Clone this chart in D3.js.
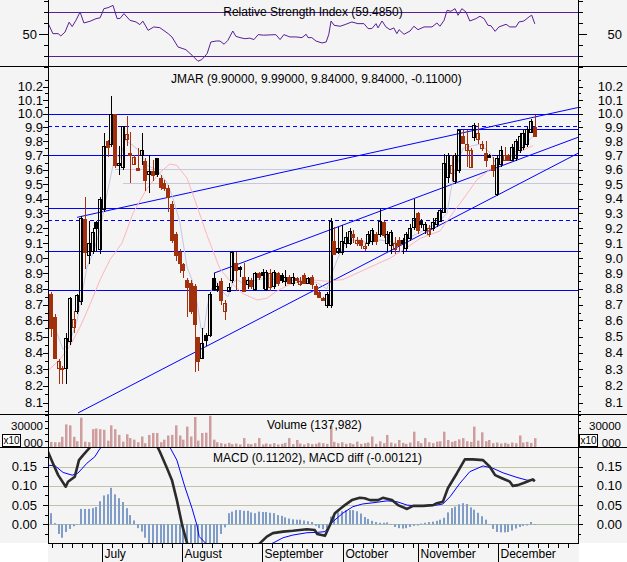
<!DOCTYPE html>
<html>
<head>
<meta charset="utf-8">
<script src="https://cdn.jsdelivr.net/npm/d3@7/dist/d3.min.js"></script>
<style>
  html, body { margin: 0; padding: 0; background: #ffffff; }
  svg { display: block; }
</style>
</head>
<body>
<svg id="chart" width="627" height="562"></svg>
<script>
// ---------- daily prices, one entry per trading day ----------
const open = [8.77,8.62,8.31,8.31,8.31,8.47,8.56,8.66,8.72,9.26, 9.02,9.05,9.24,9.06,9.33,9.80,9.78,10.00,9.63,9.62,
  9.82,9.72,9.64,9.61,9.70,9.66,9.57,9.59,9.68,9.54, 9.51,9.47,9.36,9.16,9.04,8.96,8.86,8.84,8.82,8.50,
  8.37,8.51,8.51,8.87,8.80,8.85,8.66,8.79,8.86,8.97, 8.94,8.88,8.83,8.86,8.80,8.90,8.91,8.80,8.81,8.82,
  8.90,8.89,8.85,8.88,8.84,8.87,8.83,8.89,8.84,8.88, 8.82,8.78,8.74,8.70,8.70,9.11,9.04,9.04,9.10,9.10,
  9.16,9.10,9.12,9.07,9.10,9.11,9.16,9.16,9.24,9.10, 9.09,9.06,9.12,9.12,9.07,9.13,9.21,9.30,9.25,9.19,
  9.16,9.20,9.23,9.25,9.31,9.55,9.58,9.52,9.60,9.84, 9.74,9.62,9.83,9.82,9.75,9.72,9.70,9.63,9.43,9.64,
  9.67,9.70,9.67,9.68,9.74,9.76,9.78,9.87,9.90];
const high = [8.78,8.64,8.36,8.32,8.52,8.75,8.66,8.77,9.28,9.41, 9.25,9.20,9.25,9.41,9.86,9.81,10.13,10.00,9.77,9.91,
  9.98,9.87,9.70,9.75,9.86,9.68,9.70,9.67,9.68,9.56, 9.53,9.49,9.38,9.17,9.06,8.97,8.87,8.86,8.83,8.50,
  8.55,8.52,8.78,8.90,8.84,8.87,8.73,8.84,9.05,9.04, 8.95,8.97,8.88,8.87,8.91,8.91,8.93,8.92,8.93,8.92,
  8.91,8.90,8.92,8.89,8.90,8.88,8.88,8.90,8.88,8.89, 8.83,8.79,8.75,8.78,9.27,9.21,9.21,9.22,9.17,9.20,
  9.19,9.14,9.13,9.10,9.18,9.20,9.17,9.33,9.25,9.18, 9.19,9.14,9.14,9.13,9.17,9.23,9.40,9.31,9.26,9.24,
  9.22,9.27,9.31,9.33,9.71,9.72,9.70,9.72,9.89,9.88, 9.88,9.75,9.93,9.93,9.80,9.80,9.71,9.69,9.70,9.77,
  9.76,9.71,9.78,9.82,9.86,9.88,9.90,9.96,9.99];
const low = [8.50,8.36,8.21,8.21,8.21,8.45,8.52,8.64,8.70,8.93, 8.96,9.03,9.05,9.03,9.31,9.69,9.76,9.61,9.56,9.60,
  9.77,9.51,9.63,9.59,9.63,9.45,9.44,9.52,9.55,9.46, 9.45,9.31,9.10,8.98,8.90,8.87,8.62,8.64,8.28,8.29,
  8.36,8.44,8.50,8.79,8.78,8.70,8.60,8.78,8.84,8.79, 8.88,8.78,8.80,8.80,8.79,8.86,8.80,8.79,8.79,8.80,
  8.82,8.84,8.82,8.83,8.82,8.84,8.82,8.83,8.83,8.80, 8.76,8.74,8.72,8.68,8.68,9.02,9.03,9.02,9.07,9.09,
  9.10,9.08,9.06,9.05,9.08,9.09,9.09,9.14,9.13,9.04, 9.03,9.03,9.05,9.03,9.05,9.11,9.19,9.16,9.20,9.16,
  9.14,9.18,9.21,9.24,9.30,9.51,9.52,9.50,9.58,9.78, 9.62,9.61,9.80,9.78,9.73,9.62,9.68,9.55,9.42,9.62,
  9.66,9.66,9.66,9.66,9.72,9.74,9.76,9.86,9.84];
const close = [8.55,8.37,8.35,8.30,8.49,8.74,8.61,8.76,9.27,9.04, 9.10,9.17,9.20,9.40,9.77,9.76,10.00,9.63,9.65,9.91,
  9.85,9.70,9.69,9.60,9.74,9.53,9.59,9.56,9.57,9.48, 9.47,9.41,9.12,9.02,8.97,8.92,8.81,8.66,8.58,8.35,
  8.46,8.48,8.77,8.80,8.82,8.73,8.71,8.81,9.04,8.92, 8.93,8.79,8.86,8.82,8.90,8.88,8.89,8.91,8.90,8.91,
  8.84,8.86,8.88,8.84,8.88,8.86,8.85,8.84,8.87,8.83, 8.77,8.75,8.73,8.77,9.25,9.03,9.07,9.11,9.14,9.18,
  9.14,9.12,9.09,9.08,9.16,9.19,9.11,9.25,9.15,9.16, 9.17,9.10,9.09,9.10,9.16,9.20,9.27,9.19,9.23,9.23,
  9.20,9.24,9.27,9.32,9.65,9.70,9.63,9.70,9.88,9.79, 9.78,9.74,9.92,9.86,9.78,9.67,9.69,9.60,9.68,9.74,
  9.70,9.67,9.76,9.80,9.84,9.86,9.89,9.95,9.84];
// daily volume in units of 10 shares
const volume = [8000,7500,7500,16000,35500,34000,16000,9000,46000,8500, 7500,28000,29000,28000,27000,10000,34000,28000,19000,8500,
  20000,14000,11500,7500,16500,6000,19000,22000,22000,7500, 11500,18000,19000,34000,18000,11500,32000,16500,47000,10000,
  22000,22500,49000,11500,7500,6000,5000,6500,4500,5500, 4000,14000,5000,4500,6000,14000,4000,5500,4500,6000,
  4000,5000,6500,14000,4500,11000,5500,4000,6000,4500, 5000,7000,6000,5000,33000,8000,6000,7500,5000,6000,
  4500,8500,5000,6000,7000,16500,5000,9000,6000,19000, 7000,5500,11000,6500,5000,7000,24000,9000,6000,14000,
  7500,6000,8500,9000,24000,11000,8000,9500,12000,14000, 9000,8000,32000,10000,23000,9000,11000,6000,7000,5500,
  6500,5000,7000,6000,18000,7000,8000,6500,13798.2];
// MACD minus signal, per day
const macdHist = [0.029,0.003,-0.025,-0.035,-0.020,-0.012,-0.005,-0.001,0.040,0.040, 0.040,0.042,0.045,0.060,0.075,0.078,0.095,0.078,0.068,0.058,
  0.042,0.024,0.010,-0.010,-0.019,-0.035,-0.050,-0.058,-0.065,-0.075, -0.085,-0.095,-0.100,-0.110,-0.110,-0.110,-0.100,-0.100,-0.090,-0.085,
  -0.080,-0.070,-0.065,-0.058,-0.052,-0.025,-0.008,0.029,0.033,0.037, 0.037,0.035,0.035,0.031,0.029,0.033,0.032,0.032,0.030,0.029,
  0.024,0.022,0.018,0.015,0.013,0.012,0.012,0.010,0.008,0.006, -0.004,-0.010,-0.013,-0.012,0.020,0.027,0.031,0.034,0.037,0.037,
  0.037,0.034,0.028,0.019,0.014,0.009,0.006,0.004,0.004,0.005, 0.001,-0.007,-0.010,-0.011,-0.010,-0.007,-0.004,-0.003,0.002,0.004,
  0.006,0.007,0.009,0.012,0.017,0.031,0.042,0.046,0.052,0.055, 0.053,0.044,0.038,0.030,0.021,0.012,0.000,-0.012,-0.020,-0.021,
  -0.021,-0.020,-0.016,-0.011,-0.007,-0.004,-0.003,0.006,-0.00121];

// ---------- indicator curves, [day index, value] ----------
const rsiPts = [[-0.8,60.3],[0.5,50.6],[1.9,50.6],[2.6,48.5],[3.7,52],[4.8,61],[5.6,57],[6.6,62.7],[7.7,70.3],[8.7,60.3],[10.3,61.8],[11.9,64.2],[13,65],[14,73.3],[15.1,74.2],[16.4,76.3],[17.5,64.2],[18.3,64.5],[19.3,68.8],[20.9,62.7],[22.5,61.2],[23.5,58.8],[24.3,62],[25.7,53.6],[27.2,56.7],[28.8,56],[31,50.6],[32,47.6],[33.6,38.5],[35.7,36],[37.3,31],[38.9,25.5],[39.9,27],[41.3,32.4],[42.3,43],[43.7,43.9],[44.7,43.9],[45.8,41],[46.8,44.5],[48.1,53],[48.9,48.2],[50,47],[51.3,46],[52.6,46.5],[53.7,45.2],[54.8,49.7],[56.3,49.2],[59.5,49.7],[60.6,45.2],[61.6,49.7],[63.2,47.6],[64.8,47.6],[66.4,47],[67.5,50],[68,47],[69,47],[70.1,43.9],[71.7,42.1],[72.8,43],[73.5,50],[74.1,62.1],[74.9,58.2],[76.5,57.3],[78,59.1],[79.6,61.2],[81.2,59.7],[82.8,59.7],[83.9,55.2],[84.9,55.2],[86,59.7],[86.5,55.8],[87.6,62.1],[88.6,56.7],[89.7,54.2],[90.7,55.8],[91.5,50.6],[92.1,54.2],[93.4,50],[95,53],[96,57.3],[97.1,54.2],[98.7,56.7],[100.8,56.7],[102.1,60.3],[102.9,57.3],[104,62.7],[104.8,71.8],[105.8,70.9],[106.9,73.3],[107.7,67.3],[108.7,73.3],[109.8,70.3],[110.8,62.1],[112.4,64.2],[113.5,66.4],[114.6,64.2],[115.6,58.2],[116.4,57.8],[117.5,52.7],[118.5,56.7],[120.4,59.1],[121.4,56.7],[123,56.7],[123.8,61.2],[125.1,62.1],[126.7,66.4],[127.2,67.3],[128,59.485]];
const macdPts = [[-0.8,0.189],[0.5,0.159],[1.9,0.128],[3.9,0.098],[4.5,0.111],[6.3,0.124],[7.4,0.167],[8.5,0.180],[10.3,0.200],[14,0.24],[18,0.27],[22,0.27],[26,0.25],[28,0.205],[28.8,0.189],[30.7,0.146],[32,0.115],[33.3,0.063],[34.7,-0.002],[36,-0.049],[40,-0.09],[45,-0.10],[50,-0.085],[54,-0.065],[55.3,-0.049],[57.1,-0.032],[58.7,-0.023],[61.4,-0.019],[64,-0.017],[67.7,-0.013],[69.8,-0.015],[70.4,-0.025],[72.5,-0.030],[73.8,-0.002],[75.1,0.029],[77.2,0.046],[79.6,0.063],[81.7,0.069],[83,0.068],[84.4,0.063],[86.5,0.063],[87.8,0.069],[90.2,0.063],[91.8,0.050],[94.2,0.040],[95.8,0.048],[98.4,0.048],[101.1,0.050],[102.1,0.055],[103.7,0.059],[105,0.094],[107.4,0.133],[109.5,0.169],[111.6,0.169],[114.3,0.167],[116.1,0.150],[117.5,0.128],[119.3,0.120],[121.4,0.111],[122.2,0.100],[123.5,0.102],[125.4,0.109],[126.7,0.114],[127.5,0.117],[128,0.11202]];
const signalPts = [[-0.8,0.154],[1.1,0.152],[3.2,0.135],[5.6,0.128],[7.1,0.133],[9.5,0.159],[11.6,0.176],[13,0.198],[18,0.23],[24,0.25],[28,0.24],[31.5,0.200],[33.3,0.167],[35.4,0.098],[37.3,0.042],[38.6,-0.002],[39.2,-0.032],[42,-0.06],[48,-0.075],[54,-0.065],[58.7,-0.049],[61.4,-0.035],[64,-0.028],[67.7,-0.022],[70.4,-0.021],[72.5,-0.019],[74.6,0.007],[77.2,0.029],[79.9,0.046],[82.5,0.053],[85.2,0.056],[88.9,0.061],[91.5,0.059],[94.2,0.050],[96.8,0.048],[102.1,0.050],[103.7,0.053],[105.6,0.072],[108.2,0.107],[110.8,0.137],[114.3,0.152],[116.9,0.146],[119.6,0.134],[123.3,0.122],[125.9,0.115],[128,0.11323]];
const maFastPts = [[-0.8,8.68],[1.1,8.55],[3.2,8.42],[5,8.47],[6.9,8.60],[9.5,8.94],[11.1,9.03],[13,9.19],[14.8,9.43],[16.4,9.63],[17.5,9.70],[18.3,9.68],[19.6,9.81],[21.7,9.77],[23.5,9.73],[25.4,9.63],[28,9.60],[30.7,9.51],[32.3,9.40],[34.1,9.24],[36,8.94],[37.3,8.86],[38.6,8.72],[39.7,8.55],[40.5,8.55],[41.3,8.68],[42.1,8.77],[43.4,8.86],[45.5,8.78],[46.8,8.75],[48.1,8.84],[49.2,8.86],[50.5,8.84],[51.9,8.86],[53.2,8.85],[54.8,8.86],[57.1,8.87],[62.4,8.85],[65.1,8.86],[70.4,8.84],[73,8.80],[74.3,8.90],[75.9,9.00],[77.2,9.07],[79.1,9.12],[81.7,9.12],[83.6,9.10],[87,9.12],[89.7,9.11],[92.3,9.10],[95,9.14],[97.6,9.17],[101.1,9.22],[102.9,9.25],[104.8,9.30],[105.6,9.43],[106.9,9.60],[109,9.75],[111.6,9.77],[113.5,9.78],[116.1,9.72],[118,9.63],[119.6,9.67],[121.4,9.69],[124.1,9.76],[125.9,9.79],[128,9.85]];
const maSlowPts = [[-0.8,8.29],[2.4,8.36],[5,8.44],[7.7,8.56],[10.3,8.70],[13,8.86],[15.6,8.99],[18.8,9.10],[21.7,9.30],[25.4,9.47],[28.8,9.58],[31.5,9.64],[33.3,9.63],[36,9.54],[38.6,9.35],[41.3,9.15],[44.7,8.93],[48.1,8.83],[50.8,8.77],[54.5,8.73],[57.1,8.74],[59.3,8.78],[63.2,8.83],[67.7,8.86],[73,8.85],[77.2,8.86],[81.7,8.91],[85.2,8.95],[89.7,9.00],[94.2,9.07],[97.6,9.13],[102.9,9.18],[106.3,9.30],[110,9.43],[112.7,9.53],[116.1,9.60],[118.8,9.65],[122.2,9.70],[125.9,9.75],[127.5,9.77]];

// ---------- price levels and trend lines ----------
const levelsSolid = [10.00, 9.70, 9.338, 9.045, 8.793];
const levelsDashed = [9.91, 9.253];
const levelsShort = [[9.886, 107.5]];          // [price, first day]
const levelsGrey = [[9.602, 17], [9.505, 19]];  // [price, first day]
const trendLines = [
  [[6.9, 9.272], [139.4, 10.045]],
  [[7.14, 8.039], [139.4, 9.715]],
  [[43.1, 8.902], [139.4, 9.829]]
];

// ---------- axis labels ----------
const months = ["July", "August", "September", "October", "November", "December"];
const monthStart = [13.4, 34.6, 55.8, 77.2, 97.2, 118.3];
const priceTicks = d3.range(81, 103).map(v => v / 10);
const priceMinor = d3.range(161, 208, 2).map(v => v / 20);
const rsiTicks = [20, 30, 40, 50, 60, 70, 80];
const volTicks = [10000, 20000, 30000, 40000, 50000];
const volLabels = [[30000, "30000", -1.5], [10000, "000", 2.5]];   // lower label sits beside the x10 badge
const macdTicks = [0, 0.05, 0.10, 0.15, 0.20];
const macdMinor = [-0.025, 0.025, 0.075, 0.125, 0.175];
const macdLabels = [0, 0.05, 0.10, 0.15];

// ---------- layout ----------
const W = 627, H = 562, LEFT = 48, RIGHT = 578;
const BG = "#f4f4f4";
const FONT = "'Liberation Sans', Arial, Helvetica, sans-serif";
const P = { rsi: [0, 66], price: [66, 414], vol: [414, 447], macd: [447, 543] };
const UP = "#000000", DOWN = "#a3300c";

const svg = d3.select("#chart");
svg.append("rect").attr("width", W).attr("height", H).attr("fill", BG);
svg.append("rect").attr("x", 0).attr("y", P.macd[1]).attr("width", LEFT).attr("height", H - P.macd[1]).attr("fill", "#fff");
svg.append("rect").attr("x", RIGHT + 1).attr("y", P.macd[1]).attr("width", W - RIGHT).attr("height", H - P.macd[1]).attr("fill", "#fff");

const defs = svg.append("defs");
Object.entries(P).forEach(([k, [t, b]]) => {
  defs.append("clipPath").attr("id", "clip-" + k)
    .append("rect").attr("x", LEFT).attr("y", t).attr("width", RIGHT - LEFT).attr("height", b - t);
});

const X = d3.scaleLinear().domain([0, close.length - 1]).range([51, 534.8]);
const yRsi = d3.scaleLinear().domain([20, 80]).range([67.3, 1.3]);
const yPrice = d3.scaleLog().domain([8.033, 10.354]).range([414, 66]);
const yVol = d3.scaleLinear().domain([0, 51760]).range([447, 414]);
const yMacd = d3.scaleLinear().domain([-0.0487, 0.2013]).range([543, 447]);

const px = v => Math.round(v) + 0.5;

function hline(g, y, x1, x2, color, width, dash) {
  const l = g.append("line").attr("x1", x1).attr("x2", x2).attr("y1", px(y)).attr("y2", px(y))
    .attr("stroke", color).attr("stroke-width", width || 1).attr("shape-rendering", "crispEdges");
  if (dash) l.attr("stroke-dasharray", dash);
  return l;
}
function text(g, x, y, s, anchor, size) {
  return g.append("text").attr("x", x).attr("y", y).attr("text-anchor", anchor || "start")
    .attr("font-family", FONT).attr("font-size", size || 12).attr("fill", "#000").text(s);
}
function sideTicks(values, scale, lenL, lenR) {
  const g = svg.append("g").attr("stroke", "#000").attr("shape-rendering", "crispEdges");
  values.forEach(v => {
    const y = px(scale(v));
    g.append("line").attr("x1", LEFT - lenL).attr("x2", LEFT).attr("y1", y).attr("y2", y);
    g.append("line").attr("x1", RIGHT).attr("x2", RIGHT + lenR).attr("y1", y).attr("y2", y);
  });
}
function sideLabels(values, scale, fmt, leftX, rightX, size) {
  values.forEach(v => {
    const y = scale(v) + 4.5;
    text(svg, leftX, y, fmt(v), "end", size);
    text(svg, rightX, y, fmt(v), "end", size);
  });
}
const lineGen = (xs, ys) => d3.line().x(d => xs(d[0])).y(d => ys(d[1]));

// ================= RSI panel =================
const gR = svg.append("g").attr("clip-path", "url(#clip-rsi)");
[70, 30].forEach(v => hline(gR, yRsi(v), LEFT, RIGHT, "#5a1e96", 1.3));
gR.append("path").datum(rsiPts).attr("d", lineGen(X, yRsi)).attr("fill", "none")
  .attr("stroke", "#5a1e96").attr("stroke-width", 1);
text(svg, 313, 16, `Relative Strength Index (${rsiPts[rsiPts.length - 1][1].toFixed(4)})`, "middle");
sideTicks(rsiTicks.filter(v => v !== 50), yRsi, 4, 5);
sideTicks([50], yRsi, 9, 9);
sideLabels([50], yRsi, d => d, 37, 622, 13);

// ================= price panel =================
const gP = svg.append("g").attr("clip-path", "url(#clip-price)");
levelsGrey.forEach(([v, d0]) => hline(gP, yPrice(v), X(d0), RIGHT, "#c8c8dc", 1));
levelsSolid.forEach(v => hline(gP, yPrice(v), LEFT, RIGHT, "#0000ff", 1));
levelsDashed.forEach(v => hline(gP, yPrice(v), LEFT, RIGHT, "#0000ff", 1, "4,3"));
levelsShort.forEach(([v, d0]) => hline(gP, yPrice(v), X(d0), RIGHT, "#0000ff", 1));
trendLines.forEach(([a, b]) => gP.append("line")
  .attr("x1", X(a[0])).attr("y1", yPrice(a[1])).attr("x2", X(b[0])).attr("y2", yPrice(b[1]))
  .attr("stroke", "#0000ff").attr("stroke-width", 1));
gP.append("path").datum(maSlowPts).attr("d", lineGen(X, yPrice)).attr("fill", "none")
  .attr("stroke", "#ffb4bc").attr("stroke-width", 1);
gP.append("path").datum(maFastPts).attr("d", lineGen(X, yPrice)).attr("fill", "none")
  .attr("stroke", "#c6c6e4").attr("stroke-width", 1);

const days = close.map((c, i) => ({ i, o: open[i], h: high[i], l: low[i], c,
  prev: i > 0 ? close[i - 1] : open[i] }));
const candle = gP.selectAll("g.candle").data(days).join("g").attr("class", "candle")
  .attr("shape-rendering", "crispEdges");
candle.each(function (d) {
  const g = d3.select(this);
  const col = d.c < d.prev ? DOWN : UP;
  const cx = Math.round(X(d.i));
  g.append("line").attr("x1", cx + 0.5).attr("x2", cx + 0.5)
    .attr("y1", yPrice(d.h)).attr("y2", yPrice(d.l)).attr("stroke", col);
  const top = Math.round(yPrice(Math.max(d.o, d.c)));
  const bot = Math.round(yPrice(Math.min(d.o, d.c)));
  g.append("rect").attr("x", cx - 1.5).attr("y", top + 0.5).attr("width", 3)
    .attr("height", Math.max(bot - top, 1))
    .attr("fill", d.c >= d.o ? "none" : col).attr("stroke", col);
});
{
  const n = close.length - 1;
  const f = v => v.toFixed(5);
  text(svg, 171, 83, `JMAR (${f(open[n])}, ${f(high[n])}, ${f(low[n])}, ${f(close[n])}, ${f(close[n] - close[n - 1])})`);
}
sideTicks(priceTicks, yPrice, 5, 5);
sideTicks(priceMinor, yPrice, 3, 3);
sideLabels(priceTicks, yPrice, d3.format(".1f"), 43, 623, 13);

// ================= volume panel =================
const gV = svg.append("g").attr("clip-path", "url(#clip-vol)");
gV.selectAll("rect").data(volume).join("rect")
  .attr("x", (d, i) => Math.round(X(i)) - 1).attr("width", 2.5)
  .attr("y", d => yVol(d)).attr("height", d => yVol(0) - yVol(d))
  .attr("fill", "#cf9d9d");
text(svg, 267, 429, `Volume (${d3.format(",")(Math.round(volume[volume.length - 1] * 10))})`);
sideTicks(volTicks, yVol, 3, 3);
volLabels.forEach(([v, s, dy]) => {
  const y = yVol(v) + 4 + dy;
  text(svg, 43, y, s, "end", 11.5);
  text(svg, 621, y, s, "end", 11.5);
});
[[2, 434], [579, 434]].forEach(([bx, by]) => {
  svg.append("rect").attr("x", bx + 0.5).attr("y", by + 0.5).attr("width", 18).attr("height", 12)
    .attr("fill", "#fff").attr("stroke", "#000").attr("shape-rendering", "crispEdges");
  text(svg, bx + 9.5, by + 10, "x10", "middle", 10);
});

// ================= MACD panel =================
const gM = svg.append("g").attr("clip-path", "url(#clip-macd)");
[0.05, 0.10, 0.15].forEach(v => hline(gM, yMacd(v), LEFT, RIGHT, "#c2c2a6", 1));
hline(gM, yMacd(0), LEFT, RIGHT, "#a9bfa9", 1);
gM.selectAll("rect").data(macdHist).join("rect")
  .attr("x", (d, i) => Math.round(X(i)) - 1).attr("width", 2)
  .attr("y", d => Math.min(yMacd(d), yMacd(0)))
  .attr("height", d => Math.max(Math.abs(yMacd(d) - yMacd(0)), 0.5))
  .attr("fill", "#7f9dc6");
gM.append("path").datum(signalPts).attr("d", lineGen(X, yMacd)).attr("fill", "none")
  .attr("stroke", "#0000ff").attr("stroke-width", 1);
gM.append("path").datum(macdPts).attr("d", lineGen(X, yMacd)).attr("fill", "none")
  .attr("stroke", "#2b2b2b").attr("stroke-width", 2.6).attr("stroke-linejoin", "round");
text(svg, 213, 461.5, `MACD (${macdPts[macdPts.length - 1][1].toFixed(5)}), MACD diff (${macdHist[macdHist.length - 1].toFixed(5)})`);
sideTicks(macdTicks, yMacd, 5, 5);
sideTicks(macdMinor, yMacd, 3, 3);
sideLabels(macdLabels, yMacd, d3.format(".2f"), 37, 622, 13);

// ================= frame, separators, time axis =================
const frame = svg.append("g").attr("stroke", "#000").attr("shape-rendering", "crispEdges");
[P.price[0], P.vol[0], P.macd[0]].forEach(y =>
  frame.append("line").attr("x1", 0).attr("x2", W).attr("y1", y + 0.5).attr("y2", y + 0.5));
frame.append("line").attr("x1", LEFT).attr("x2", RIGHT + 1).attr("y1", P.macd[1] + 0.5).attr("y2", P.macd[1] + 0.5);
frame.append("line").attr("x1", LEFT + 0.5).attr("x2", LEFT + 0.5).attr("y1", 0).attr("y2", P.macd[1] + 1);
frame.append("line").attr("x1", RIGHT + 0.5).attr("x2", RIGHT + 0.5).attr("y1", 0).attr("y2", P.macd[1] + 1);

const step = 10 / (X(1) - X(0));
const bounds = [X.invert(LEFT), ...monthStart, X.invert(RIGHT)];
const minor = [];
for (let k = 1; k < bounds.length; k++) {
  const a = bounds[k - 1], b = bounds[k];
  if (k === 1) { for (let t = b - step; t > a + 0.2; t -= step) minor.push(t); }
  else { for (let t = a + step; t < b - 0.8; t += step) minor.push(t); }
}
minor.forEach(t => frame.append("line").attr("x1", px(X(t))).attr("x2", px(X(t)))
  .attr("y1", P.macd[1]).attr("y2", P.macd[1] + 5));
monthStart.forEach((t, k) => {
  frame.append("line").attr("x1", px(X(t))).attr("x2", px(X(t))).attr("y1", P.macd[1]).attr("y2", H);
  text(svg, px(X(t)) + 2, 558, months[k]);
});
</script>
</body>
</html>
